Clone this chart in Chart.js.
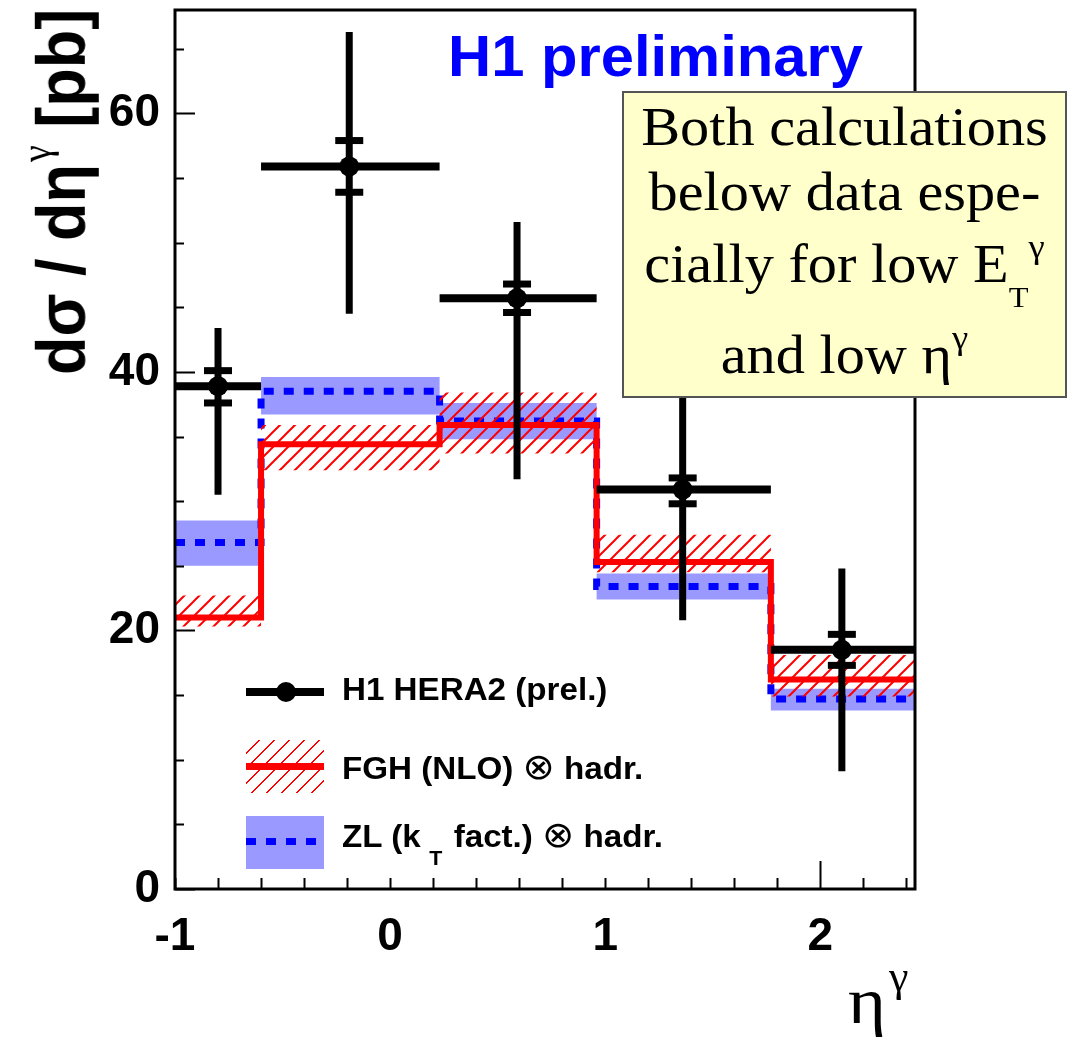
<!DOCTYPE html>
<html>
<head>
<meta charset="utf-8">
<title>Prompt photon cross section vs eta</title>
<script src="https://cdn.jsdelivr.net/npm/chart.js@4.4.1/dist/chart.umd.min.js"></script>
<style>
  html, body { margin: 0; padding: 0; background: #fff; }
  #wrap { position: relative; width: 1073px; height: 1040px; overflow: hidden; }
  #plot { position: absolute; left: 0; top: 0; }
  .txt { position: absolute; white-space: nowrap; line-height: 1; }
  .sans { font-family: 'Liberation Sans', Arial, sans-serif; font-weight: bold; }
  .serif { font-family: 'Liberation Serif', 'Times New Roman', serif; font-weight: normal; }

  #ytitle { left: 26px; top: 375px; font-size: 63px; transform-origin: 0 0; transform: rotate(-90deg) scaleY(1.1); }
  #ytitle .g { font-family: 'Liberation Serif', serif; font-weight: normal; font-size: 38px; position: relative; top: -31px; margin-left: 2px; }

  #xeta { left: 848px; top: 968px; font-size: 66px; transform-origin: 0 0; transform: scaleX(1.1); }
  #xgam { left: 889px; top: 955px; font-size: 44px; }

  #h1pre { left: 448px; top: 27px; font-size: 58px; color: #0000ff; transform-origin: 0 0; transform: scaleX(1.03); }

  /* note box */
  #note { position: absolute; left: 622px; top: 91px; width: 441px; height: 303px; background: #ffffcc; border: 2px solid #555; }
  .nl { left: 0; width: 441px; text-align: center; font-size: 54px; transform: scaleX(1.08); }
  .nl .sub { font-size: 30px; position: relative; top: 25px; }
  .nl .sup { font-size: 34px; position: relative; top: -24px; }

  /* legend */
  .lt { left: 342px; font-size: 31px; transform-origin: 0 0; transform: scaleX(1.07); }
  .lt .ot { font-family: 'DejaVu Sans', sans-serif; font-weight: normal; font-size: 36px; }
  .lt .sub { font-size: 20px; position: relative; top: 18px; margin-left: 8px; margin-right: 2px; }
  .sym { position: absolute; }
</style>
</head>
<body>
<div id="wrap">
  <canvas id="plot" width="1073" height="1040"></canvas>

  <div id="ytitle" class="txt sans">dσ / dη<span class="g">γ</span> [pb]</div>
  <div id="xeta" class="txt serif">η</div>
  <div id="xgam" class="txt serif">γ</div>

  <div id="h1pre" class="txt sans">H1 preliminary</div>

  <div id="note">
    <div class="txt serif nl" style="top: 7px;">Both calculations</div>
    <div class="txt serif nl" style="top: 72px;">below data espe-</div>
    <div class="txt serif nl" style="top: 144px;">cially for low E<span class="sub">T</span><span class="sup">γ</span></div>
    <div class="txt serif nl" style="top: 235px;">and low η<span class="sup">γ</span></div>
  </div>

  <!-- legend symbols -->
  <div class="sym" style="left:246px; top:688px; width:78px; height:8px; background:#000;"></div>
  <div class="sym" style="left:276px; top:682px; width:20px; height:20px; border-radius:50%; background:#000;"></div>

  <div class="sym" style="left:246px; top:740px; width:78px; height:53px; background:repeating-linear-gradient(135deg, transparent 0 8.6px, #ff0000 8.6px 10.6px);"></div>
  <div class="sym" style="left:246px; top:763px; width:78px; height:7px; background:#ff0000;"></div>

  <div class="sym" style="left:246px; top:816px; width:78px; height:53px; background:#9999ff;"></div>
  <div class="sym" style="left:246px; top:838px; width:78px; height:7px; background:repeating-linear-gradient(90deg, #0000ff 0 10px, transparent 10px 20px);"></div>

  <div class="txt sans lt" style="top: 674px;">H1 HERA2 (prel.)</div>
  <div class="txt sans lt" style="top: 749px;">FGH (NLO) <span class="ot">⊗</span> hadr.</div>
  <div class="txt sans lt" style="top: 817px;">ZL (k<span class="sub">T</span> fact.) <span class="ot">⊗</span> hadr.</div>
</div>

<script>
// eta bins and measured cross section
const binEdges   = [-1.0, -0.6, 0.23, 0.96, 1.77, 2.44];
const etaCentres = [-0.8, -0.19, 0.59, 1.36, 2.1];
const h1Values   = [38.9, 55.9, 45.7, 30.9, 18.5];
const h1StatUp   = [40.1, 57.9, 46.8, 31.8, 19.7];
const h1StatDown = [37.6, 53.9, 44.6, 29.8, 17.3];
const h1TotUp    = [43.4, 66.3, 51.6, 41.0, 24.8];
const h1TotDown  = [30.5, 44.5, 31.7, 20.8, 9.1];

// FGH (NLO) prediction with its uncertainty band
const fghValues = [21.0, 34.4, 35.9, 25.3, 16.2];
const fghUp     = [22.7, 35.9, 38.4, 27.4, 18.1];
const fghDown   = [20.3, 32.4, 33.7, 24.5, 14.9];

// ZL (kT factorisation) prediction with its band
const zlValues = [26.8, 38.5, 36.2, 23.4, 14.7];
const zlUp     = [28.5, 39.6, 37.6, 24.4, 15.5];
const zlDown   = [25.0, 36.7, 34.8, 22.4, 13.8];

// axes
const xMin = -1.0, xMax = 2.44;
const yMin = 0, yMax = 68;
const xTickValues = [-1, 0, 1, 2];
const yTickValues = [0, 20, 40, 60];

const tickFont = { family: "'Liberation Sans', Arial, sans-serif", size: 46, weight: 'bold' };

// histogram outline: one point per bin edge, last value repeated
function stepPoints(values) {
  return binEdges.map((e, i) => ({ x: e, y: values[Math.min(i, values.length - 1)] }));
}

// line pieces separated by gaps
function hBars() {
  const pts = [];
  h1Values.forEach((v, i) => {
    pts.push({ x: binEdges[i], y: v }, { x: binEdges[i + 1], y: v }, { x: binEdges[i + 1], y: null });
  });
  return pts;
}
function vBars() {
  const pts = [];
  etaCentres.forEach((x, i) => {
    pts.push({ x: x, y: h1TotDown[i] }, { x: x, y: h1TotUp[i] }, { x: x, y: null });
  });
  return pts;
}
function statCaps() {
  const pts = [];
  etaCentres.forEach((x, i) => {
    pts.push({ x: x, y: h1StatUp[i] }, { x: x, y: h1StatDown[i] });
  });
  return pts;
}

function makeHatch() {
  const c = document.createElement('canvas');
  c.width = 15; c.height = 15;
  const g = c.getContext('2d');
  g.strokeStyle = '#ff0000';
  g.lineWidth = 2;
  g.beginPath();
  g.moveTo(0, 15); g.lineTo(15, 0);
  g.moveTo(-3, 3); g.lineTo(3, -3);
  g.moveTo(12, 18); g.lineTo(18, 12);
  g.stroke();
  return g.createPattern(c, 'repeat');
}

// frame with inward ticks, ROOT style
const frameTicks = {
  id: 'frameTicks',
  afterDatasetsDraw(chart) {
    const { ctx, chartArea: a, scales: { x, y } } = chart;
    ctx.save();
    ctx.strokeStyle = '#000';
    ctx.lineWidth = 2;
    ctx.beginPath();
    for (let v = yMin; v <= yMax; v += 5) {
      const py = Math.round(y.getPixelForValue(v)) + 0.5;
      const len = v % 20 === 0 ? 20 : 9;
      ctx.moveTo(a.left, py);
      ctx.lineTo(a.left + len, py);
    }
    for (let i = 0; i <= 17; i++) {
      const v = xMin + i * 0.2;
      const px = Math.round(x.getPixelForValue(v)) + 0.5;
      const len = Math.abs(v - 2) < 1e-6 ? 28 : 11;
      ctx.moveTo(px, a.bottom);
      ctx.lineTo(px, a.bottom - len);
    }
    ctx.stroke();
    ctx.lineWidth = 3;
    ctx.strokeRect(a.left, a.top, a.right - a.left, a.bottom - a.top);
    ctx.restore();
  }
};

const lineBase = { type: 'line', pointRadius: 0, tension: 0, fill: false };

new Chart(document.getElementById('plot'), {
  data: {
    datasets: [
      Object.assign({}, lineBase, { data: stepPoints(zlUp), stepped: true, borderWidth: 0, order: 19 }),
      Object.assign({}, lineBase, { data: stepPoints(zlDown), stepped: true, borderWidth: 0,
        fill: '-1', backgroundColor: '#9999ff', order: 20 }),
      Object.assign({}, lineBase, { data: stepPoints(zlValues), stepped: true, borderColor: '#0000ff',
        borderWidth: 7, borderDash: [10, 10], order: 18 }),
      Object.assign({}, lineBase, { data: stepPoints(fghUp), stepped: true, borderWidth: 0, order: 16 }),
      Object.assign({}, lineBase, { data: stepPoints(fghDown), stepped: true, borderWidth: 0,
        fill: '-1', backgroundColor: makeHatch(), order: 17 }),
      Object.assign({}, lineBase, { data: stepPoints(fghValues), stepped: true, borderColor: '#ff0000',
        borderWidth: 6, order: 15 }),
      Object.assign({}, lineBase, { data: hBars(), borderColor: '#000', borderWidth: 8, order: 4 }),
      Object.assign({}, lineBase, { data: vBars(), borderColor: '#000', borderWidth: 7, order: 3 }),
      { type: 'scatter', data: statCaps(), pointStyle: 'line', pointRadius: 14,
        pointBorderWidth: 7, pointBorderColor: '#000', order: 2 },
      { type: 'scatter', data: etaCentres.map((x, i) => ({ x: x, y: h1Values[i] })),
        pointStyle: 'circle', pointRadius: 10, pointBorderWidth: 0, pointBackgroundColor: '#000', order: 1 }
    ]
  },
  options: {
    responsive: false,
    devicePixelRatio: 1,
    animation: false,
    events: [],
    layout: { autoPadding: false, padding: { top: 10, right: 158, left: 0, bottom: 0 } },
    plugins: { legend: { display: false }, tooltip: { enabled: false } },
    scales: {
      x: {
        type: 'linear', min: xMin, max: xMax,
        grid: { display: false }, border: { display: false },
        afterBuildTicks: s => { s.ticks = xTickValues.map(v => ({ value: v })); },
        afterFit: s => { s.height = 151; s.paddingLeft = 0; s.paddingRight = 0; },
        ticks: { font: tickFont, color: '#000', padding: 13, maxRotation: 0, autoSkip: false }
      },
      y: {
        type: 'linear', min: yMin, max: yMax,
        grid: { display: false }, border: { display: false },
        afterBuildTicks: s => { s.ticks = yTickValues.map(v => ({ value: v })); },
        afterFit: s => { s.width = 175; s.paddingTop = 0; s.paddingBottom = 0; },
        ticks: { font: tickFont, color: '#000', padding: 7 }
      }
    }
  },
  plugins: [frameTicks]
});
</script>
</body>
</html>
